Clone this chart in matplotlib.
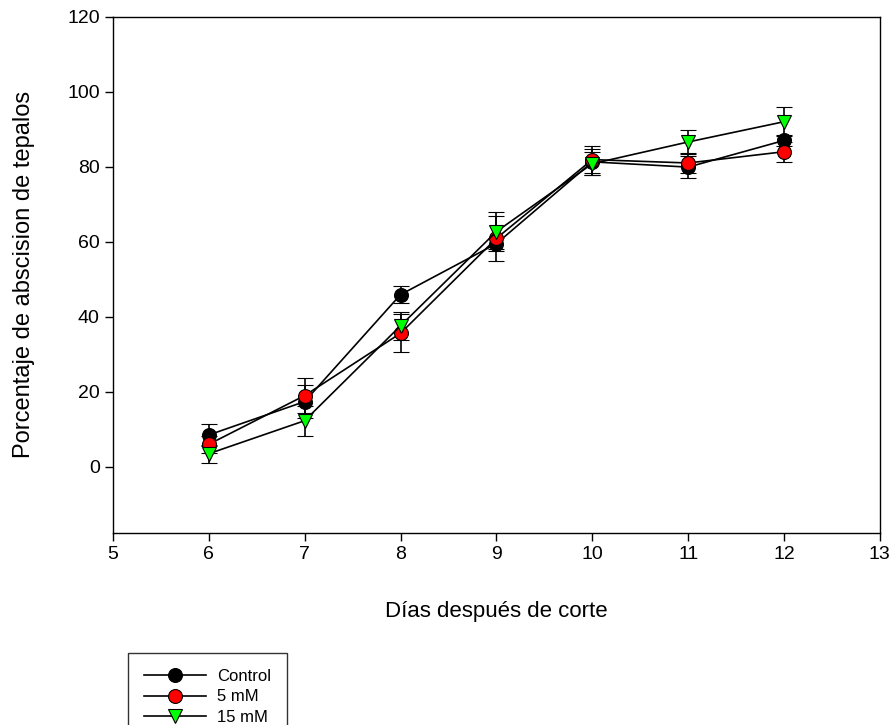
import matplotlib.pyplot as plt
from matplotlib.lines import Line2D

plt.rcParams['font.family'] = ['Liberation Sans', 'DejaVu Sans']

dias = [6, 7, 8, 9, 10, 11, 12]

control = [8.5, 17.4, 45.9, 59.5, 81.3, 79.9, 87.0]
control_err = [3.0, 4.5, 2.2, 1.5, 3.5, 2.9, 1.5]

mm5 = [6.0, 19.0, 35.6, 60.9, 81.9, 81.0, 84.0]
mm5_err = [2.2, 4.7, 5.1, 6.0, 3.5, 2.6, 2.7]

mm15 = [3.5, 12.3, 37.6, 62.7, 80.8, 86.6, 92.0]
mm15_err = [2.4, 4.0, 3.8, 5.2, 3.0, 3.1, 3.8]

fig = plt.figure(figsize=(8.96, 7.25), dpi=100)
ax = fig.add_axes([0.126, 0.265, 0.856, 0.712])

series = [
    (control, control_err, 'Control', 'o', 'black'),
    (mm5, mm5_err, '5 mM', 'o', '#ff0000'),
    (mm15, mm15_err, '15 mM', 'v', '#00ff00'),
]

handles = []
for vals, err, name, mk, col in series:
    ax.errorbar(dias, vals, yerr=err, color='black', lw=1.2, elinewidth=1.2,
                capsize=6, capthick=1.2, marker=mk, markersize=10,
                markerfacecolor=col, markeredgecolor='black', markeredgewidth=0.8)
    handles.append(Line2D([], [], color='black', lw=1.2, marker=mk, markersize=10,
                          markerfacecolor=col, markeredgecolor='black',
                          markeredgewidth=0.8, label=name))

ax.set_xlim(5, 13)
ax.set_ylim(-17.6, 120)
ax.set_xticks(range(5, 14))
ax.set_yticks(range(0, 121, 20))
ax.tick_params(direction='out', length=6, width=1, labelsize=14,
               top=False, right=False)
for s in ax.spines.values():
    s.set_linewidth(1)

ax.set_xlabel('Días después de corte', fontsize=16, labelpad=27)
ax.set_ylabel('Porcentaje de abscision de tepalos', fontsize=17, labelpad=23)

leg = fig.legend(handles=handles, loc='upper left', bbox_to_anchor=(0.143, 0.099),
                 fontsize=12, frameon=True, fancybox=False, edgecolor='black',
                 handlelength=3.7, handletextpad=0.7, borderpad=0.95,
                 labelspacing=0.32, borderaxespad=0)
leg.get_frame().set_linewidth(1)

fig.savefig('out.png', dpi=100)
